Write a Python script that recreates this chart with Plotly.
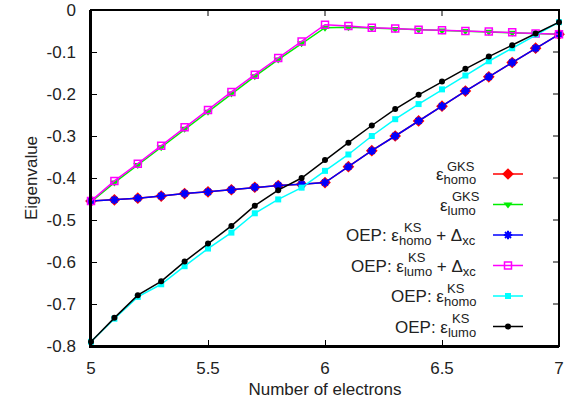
import plotly.graph_objects as go

# ---------------- data ----------------
n_electrons = [5.0, 5.1, 5.2, 5.3, 5.4, 5.5, 5.6, 5.7, 5.8, 5.9, 6.0,
               6.1, 6.2, 6.3, 6.4, 6.5, 6.6, 6.7, 6.8, 6.9, 7.0]

eps_homo_gks = [-0.455, -0.452, -0.448, -0.443, -0.437, -0.433, -0.428, -0.422, -0.418, -0.415, -0.411,
                -0.373, -0.335, -0.300, -0.264, -0.229, -0.193, -0.159, -0.125, -0.091, -0.058]
eps_lumo_gks = [-0.457, -0.411, -0.369, -0.327, -0.283, -0.242, -0.199, -0.158, -0.118, -0.079, -0.042,
                -0.041, -0.043, -0.045, -0.047, -0.049, -0.050, -0.052, -0.054, -0.056, -0.058]
oep_homo_dxc = [-0.455, -0.452, -0.448, -0.443, -0.437, -0.433, -0.428, -0.422, -0.418, -0.415, -0.411,
                -0.373, -0.335, -0.300, -0.264, -0.229, -0.193, -0.159, -0.125, -0.091, -0.058]
oep_lumo_dxc = [-0.455, -0.407, -0.366, -0.323, -0.279, -0.238, -0.195, -0.154, -0.114, -0.075, -0.035,
                -0.038, -0.042, -0.044, -0.047, -0.048, -0.050, -0.051, -0.053, -0.056, -0.058]
oep_homo_ks = [-0.790, -0.735, -0.683, -0.653, -0.610, -0.568, -0.530, -0.484, -0.451, -0.423, -0.383,
               -0.344, -0.300, -0.260, -0.224, -0.189, -0.156, -0.122, -0.091, -0.058, -0.029]
oep_lumo_ks = [-0.790, -0.733, -0.679, -0.646, -0.599, -0.556, -0.514, -0.466, -0.429, -0.400, -0.357,
               -0.316, -0.275, -0.236, -0.202, -0.170, -0.140, -0.111, -0.084, -0.056, -0.029]

x_tickvals = [5, 5.5, 6, 6.5, 7]
x_ticktext = ["5", "5.5", "6", "6.5", "7"]
y_tickvals = [0, -0.1, -0.2, -0.3, -0.4, -0.5, -0.6, -0.7, -0.8]
y_ticktext = ["0", "-0.1", "-0.2", "-0.3", "-0.4", "-0.5", "-0.6", "-0.7", "-0.8"]

# legend labels: (prefix, subscript, suffix-main, suffix-sub, superscript)
label_prefix = ["ε", "ε", "OEP: ε", "OEP: ε", "OEP: ε", "OEP: ε"]
label_sub = ["homo", "lumo", "homo", "lumo", "homo", "lumo"]
label_suffix = ["", "", " + Δ", " + Δ", "", ""]
label_suffix_sub = ["", "", "xc", "xc", "", ""]
label_sup = ["GKS", "GKS", "KS", "KS", "KS", "KS"]

# ---------------- layout constants ----------------
W, H = 566, 412
L, R, T, B = 91, 7, 10, 66
PW, PH = W - L - R, H - T - B
FONT = "Liberation Sans, Arial, Helvetica, sans-serif"
MAIN = 17
SUBS = 13
TICKLEN = 6

series = [
    (eps_homo_gks, "#ff0000", dict(symbol="diamond", size=9, color="#ff0000")),
    (eps_lumo_gks, "#00ee00", dict(symbol="triangle-down", size=8, color="#00ee00")),
    (oep_homo_dxc, "#0000ff", dict(symbol="asterisk-open", size=7, color="#0000ff", line=dict(color="#0000ff", width=2))),
    (oep_lumo_dxc, "#ff00ff", dict(symbol="square-open", size=7, color="#ff00ff", line=dict(color="#ff00ff", width=1.5))),
    (oep_homo_ks, "#00ffff", dict(symbol="square", size=6, color="#00ffff")),
    (oep_lumo_ks, "#000000", dict(symbol="circle", size=6, color="#000000")),
]

fig = go.Figure()
for i, (vals, col, mk) in enumerate(series):
    fullname = label_prefix[i] + label_sup[i] + "_" + label_sub[i] + label_suffix[i] + label_suffix_sub[i]
    fig.add_trace(go.Scatter(
        x=n_electrons, y=vals, mode="lines+markers",
        line=dict(color=col, width=1.5), marker=mk,
        name=" ", legendgroup="g%d" % i, cliponaxis=False,
        hovertemplate=fullname + ": %{y}<extra></extra>",
    ))

# Arial advance widths (em)
CW = {"h": .556, "o": .556, "m": .833, "l": .222, "u": .556, "x": .5, "c": .5,
      " ": .278, "+": .584, "Δ": .667}


def tw(s, size):
    return sum(CW.get(ch, .556) for ch in s) * size


entry_py = [175, 205.5, 236, 266.5, 297, 327.5]
text_right = 478
annotations = []
for i in range(6):
    txt = (label_prefix[i] + "<sub><span style='font-size:%dpx'>%s</span></sub>" % (SUBS, label_sub[i])
           + label_suffix[i])
    if label_suffix_sub[i]:
        txt += "<sub><span style='font-size:%dpx'>%s</span></sub>" % (SUBS, label_suffix_sub[i])
    yp = (H - B - entry_py[i]) / PH
    annotations.append(dict(
        x=(text_right - L) / PW, y=yp, xref="paper", yref="paper",
        xanchor="right", yanchor="middle", text=txt, showarrow=False,
        font=dict(family=FONT, size=MAIN, color="#222222"), yshift=-1))
    sup_left = text_right - tw(label_sub[i], SUBS) - tw(label_suffix[i], MAIN) - tw(label_suffix_sub[i], SUBS)
    annotations.append(dict(
        x=(sup_left - L) / PW, y=yp, xref="paper", yref="paper",
        xanchor="left", yanchor="middle", text=label_sup[i], showarrow=False,
        font=dict(family=FONT, size=SUBS, color="#222222"), yshift=9))

# frame box and mirrored (top / right) inward ticks
shapes = [dict(type="rect", xref="paper", yref="paper", x0=0, x1=1, y0=0, y1=1,
               line=dict(color="black", width=2), layer="above")]
for xv in x_tickvals:
    shapes.append(dict(type="line", xref="x", yref="paper", x0=xv, x1=xv,
                       y0=1, y1=1 - TICKLEN / PH, line=dict(color="black", width=1), layer="above"))
for yv in y_tickvals:
    shapes.append(dict(type="line", xref="paper", yref="y", x0=1, x1=1 - TICKLEN / PW,
                       y0=yv, y1=yv, line=dict(color="black", width=1), layer="above"))

axis_common = dict(showline=True, linecolor="black", linewidth=1.5,
                   ticks="inside", ticklen=TICKLEN, tickwidth=1, tickcolor="black",
                   showgrid=False, zeroline=False, automargin=False,
                   tickfont=dict(family=FONT, size=MAIN, color="#222222"))

fig.update_layout(
    width=W, height=H,
    margin=dict(l=L, r=R, t=T, b=B, autoexpand=False),
    paper_bgcolor="white", plot_bgcolor="white",
    font=dict(family=FONT, size=MAIN, color="#222222"),
    xaxis=dict(range=[5, 7], tickvals=x_tickvals, ticktext=x_ticktext,
               title=dict(text="Number of electrons", standoff=6, font=dict(size=MAIN)),
               ticklabelstandoff=6, **axis_common),
    yaxis=dict(range=[-0.8, 0], tickvals=y_tickvals, ticktext=y_ticktext,
               title=dict(text="Eigenvalue", standoff=5, font=dict(size=MAIN)),
               ticklabelstandoff=10, **axis_common),
    showlegend=True,
    legend=dict(x=(488 - L) / PW, y=(H - B - 159.5) / PH, xanchor="left", yanchor="top",
                bgcolor="rgba(0,0,0,0)", borderwidth=0, font=dict(size=10),
                traceorder="grouped", tracegroupgap=11.5, itemwidth=30),
    annotations=annotations,
    shapes=shapes,
)

fig.write_html("out.html", config={"displayModeBar": False},
               post_script="document.body.style.margin='0';")
